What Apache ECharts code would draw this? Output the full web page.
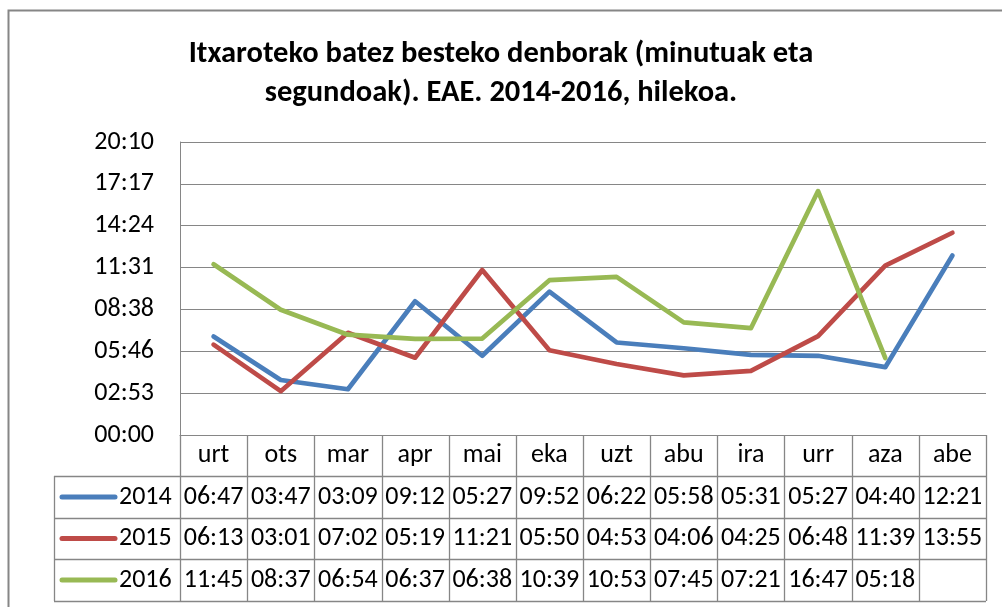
<!DOCTYPE html>
<html><head><meta charset="utf-8">
<script src="https://cdn.jsdelivr.net/npm/echarts@6/dist/echarts.min.js"></script>
<style>html,body{margin:0;padding:0;background:#fff}#c{width:1002px;height:607px}</style>
</head><body><div id="c"></div>
<script>
const titleText = 'Itxaroteko batez besteko denborak (minutuak eta\nsegundoak). EAE. 2014-2016, hilekoa.';
const months = ['urt','ots','mar','apr','mai','eka','uzt','abu','ira','urr','aza','abe'];
const years = ['2014','2015','2016'];
const v2014 = ['06:47','03:47','03:09','09:12','05:27','09:52','06:22','05:58','05:31','05:27','04:40','12:21'];
const v2015 = ['06:13','03:01','07:02','05:19','11:21','05:50','04:53','04:06','04:25','06:48','11:39','13:55'];
const v2016 = ['11:45','08:37','06:54','06:37','06:38','10:39','10:53','07:45','07:21','16:47','05:18',null];
const yMax = 1209.6, yStep = 172.8; // seconds: 20:10 and 02:53 steps
const colors = ['#4a7ebb','#be4b48','#98b954'];
const FONT = 'Carlito, Lato, sans-serif';
const FS = 26;

function toSec(s){ if(s===null) return null; const p=s.split(':'); return (+p[0])*60+(+p[1]); }
function fmt(v){ const t=Math.round(v); const m=Math.floor(t/60), s=t%60; return String(m).padStart(2,'0')+':'+String(s).padStart(2,'0'); }

const allVals = [v2014, v2015, v2016];
const chart = echarts.init(document.getElementById('c'), null, {renderer:'canvas'});
const option = {
  animation:false,
  backgroundColor:'#fff',
  title:{ text:titleText, left:'center', top:30,
    textStyle:{ fontFamily:FONT, fontWeight:'bold', fontSize:30.5, color:'#000', lineHeight:39 } },
  grid:{ left:180, right:16, top:142, bottom:172 },
  xAxis:{ type:'category', data:months, boundaryGap:true,
    axisLine:{ lineStyle:{ color:'#868686', width:1 } },
    axisTick:{ show:false }, axisLabel:{ show:false } },
  yAxis:{ type:'value', min:0, max:yMax, interval:yStep,
    axisLine:{ show:true, lineStyle:{ color:'#868686', width:1 } },
    axisTick:{ show:false },
    splitLine:{ lineStyle:{ color:'#868686', width:1 } },
    axisLabel:{ formatter:fmt, margin:26, color:'#000', fontFamily:FONT, fontSize:FS } },
  series: years.map((y,i)=>({ name:y, type:'line', data:allVals[i].map(toSec), symbol:'none',
    connectNulls:false, lineStyle:{ color:colors[i], width:4.7, cap:'round', join:'round' },
    itemStyle:{ color:colors[i] } }))
};
chart.setOption(option);

// data table drawn under the plot
const c0 = chart.convertToPixel({xAxisIndex:0}, 0);
const c1 = chart.convertToPixel({xAxisIndex:0}, 1);
const colW = c1 - c0;
const tLeft = c0 - colW/2;
const tRight = tLeft + months.length*colW;
const rowsY = [435, 476, 518, 559, 601];
const keyLeft = 54;
const LC = '#868686';
const g = [];
g.push({ type:'rect', shape:{ x:8.5, y:10.5, width:1200, height:800 }, style:{ fill:null, stroke:LC, lineWidth:2 }, silent:true });
for (let r=1; r<rowsY.length; r++) {
  g.push({ type:'line', shape:{ x1:keyLeft, y1:rowsY[r]+0.5, x2:tRight, y2:rowsY[r]+0.5 }, style:{ stroke:LC, lineWidth:1.3 } });
}
for (let i=0;i<=months.length;i++){
  const x = Math.round(tLeft + i*colW)+0.5;
  g.push({ type:'line', shape:{ x1:x, y1:rowsY[0], x2:x, y2:rowsY[4] }, style:{ stroke:LC, lineWidth:1.3 } });
}
g.push({ type:'line', shape:{ x1:keyLeft+0.5, y1:rowsY[1], x2:keyLeft+0.5, y2:rowsY[4] }, style:{ stroke:LC, lineWidth:1.3 } });
const txt = (x,y,t)=>({ type:'text', x:x, y:y, style:{ text:t, fill:'#000', font:FS+'px '+FONT, textAlign:'center', textVerticalAlign:'middle' } });
months.forEach((m,i)=>{ g.push(txt(chart.convertToPixel({xAxisIndex:0}, i), (rowsY[0]+rowsY[1])/2, m)); });
years.forEach((y,r)=>{
  const cy = (rowsY[r+1]+rowsY[r+2])/2;
  g.push({ type:'line', shape:{ x1:62, y1:cy, x2:115, y2:cy }, style:{ stroke:colors[r], lineWidth:5, lineCap:'round' } });
  g.push({ type:'text', x:119, y:cy, style:{ text:y, fill:'#000', font:FS+'px '+FONT, textAlign:'left', textVerticalAlign:'middle' } });
  allVals[r].forEach((v,i)=>{ if(v!==null) g.push(txt(chart.convertToPixel({xAxisIndex:0}, i), cy, v)); });
});
chart.setOption({ graphic:{ elements:g } });
</script></body></html>
